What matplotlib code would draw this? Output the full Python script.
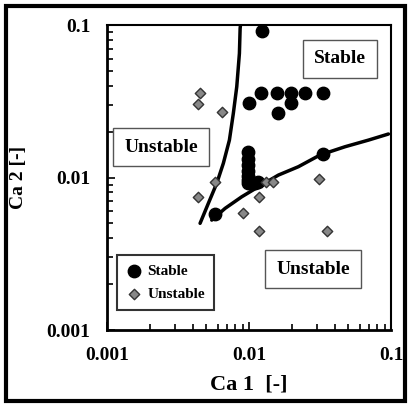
import numpy as np
import matplotlib.pyplot as plt
from matplotlib.patches import Rectangle

plt.rcParams['font.family'] = ['Liberation Serif', 'DejaVu Serif']
plt.rcParams['font.weight'] = 'bold'

# Stable points (Ca1, Ca2)
stable_ca1 = [0.0123, 0.0122, 0.0157, 0.0197, 0.0248, 0.0330, 0.0100, 0.0197, 0.0161,
              0.0099, 0.0099, 0.0099, 0.0099, 0.0099, 0.0099, 0.0099, 0.0105, 0.0110, 0.0116,
              0.0330, 0.0058]
stable_ca2 = [0.0914, 0.0357, 0.0357, 0.0357, 0.0357, 0.0357, 0.0307, 0.0307, 0.0266,
              0.0148, 0.0132, 0.0120, 0.0110, 0.0102, 0.0096, 0.0092, 0.0092, 0.0092, 0.0093,
              0.0143, 0.0058]

# Unstable points
unstable_ca1 = [0.00452, 0.00440, 0.00649, 0.0058, 0.00435, 0.00912, 0.0118, 0.0118,
                0.0131, 0.0148, 0.0311, 0.0352]
unstable_ca2 = [0.0357, 0.0302, 0.0270, 0.0094, 0.00748, 0.00588, 0.00748, 0.00446,
                0.0094, 0.0093, 0.00973, 0.00446]

# Boundary curves
left_ca1 = [0.00452, 0.00517, 0.00592, 0.00659, 0.00727, 0.00775, 0.00819, 0.00855, 0.00865, 0.00870]
left_ca2 = [0.00501, 0.00678, 0.00916, 0.0124, 0.0176, 0.0264, 0.0394, 0.0652, 0.0952, 0.1]
right_ca1 = [0.00546, 0.00678, 0.00888, 0.01163, 0.01608, 0.02224, 0.0316, 0.0474, 0.0692, 0.0957]
right_ca2 = [0.00526, 0.00628, 0.00748, 0.0087, 0.01038, 0.01178, 0.01406, 0.01593, 0.0176, 0.0193]

fig = plt.figure(figsize=(4.10, 4.11), dpi=100)
ax = fig.add_axes([0.261, 0.197, 0.693, 0.742])

ax.plot(left_ca1, left_ca2, color='black', linewidth=2.5, solid_capstyle='round')
ax.plot(right_ca1, right_ca2, color='black', linewidth=2.5, solid_capstyle='round')
ax.scatter(stable_ca1, stable_ca2, s=80, color='black', zorder=3, label='Stable')
ax.scatter(unstable_ca1, unstable_ca2, s=28, marker='D', color='#888888',
           edgecolors='#333333', linewidths=1, zorder=3, label='Unstable')

ax.set_xscale('log')
ax.set_yscale('log')
ax.set_xlim(0.001, 0.1)
ax.set_ylim(0.001, 0.1)

ax.set_xticks([0.001, 0.01, 0.1])
ax.set_xticklabels(['0.001', '0.01', '0.1'])
ax.set_yticks([0.001, 0.01, 0.1])
ax.set_yticklabels(['0.001', '0.01', '0.1'])
ax.tick_params(axis='both', which='both', direction='in', labelsize=14, width=1.2)
ax.tick_params(axis='x', which='major', length=6, pad=12)
ax.tick_params(axis='y', which='major', length=6, pad=12)
ax.tick_params(which='minor', length=4)
for s in ax.spines.values():
    s.set_linewidth(1.5)
ax.spines['bottom'].set_linewidth(2)
ax.spines['left'].set_linewidth(2)

ax.set_xlabel('Ca 1  [-]', fontsize=16, fontweight='bold', labelpad=8)
ax.set_ylabel('Ca 2 [-]', fontsize=14, fontweight='bold', labelpad=14)

box = dict(boxstyle='square,pad=0.55', facecolor='white', edgecolor='#555555', linewidth=1)
ax.text(0.82, 0.889, 'Stable', transform=ax.transAxes, fontsize=14, fontweight='bold',
        ha='center', va='center', bbox=box)
ax.text(0.19, 0.60, 'Unstable', transform=ax.transAxes, fontsize=14, fontweight='bold',
        ha='center', va='center', bbox=box)
ax.text(0.725, 0.20, 'Unstable', transform=ax.transAxes, fontsize=14, fontweight='bold',
        ha='center', va='center', bbox=box)

leg = ax.legend(loc='lower left', bbox_to_anchor=(0.035, 0.066), borderaxespad=0,
                fontsize=11, frameon=True, fancybox=False, edgecolor='black',
                handletextpad=0.4, borderpad=0.6, labelspacing=0.6, handlelength=1.0)
leg.get_frame().set_linewidth(1.5)

fig.patches.append(Rectangle((0.015, 0.025), 0.972, 0.96, transform=fig.transFigure,
                             fill=False, edgecolor='black', linewidth=3))

fig.savefig('out.png', dpi=100)
